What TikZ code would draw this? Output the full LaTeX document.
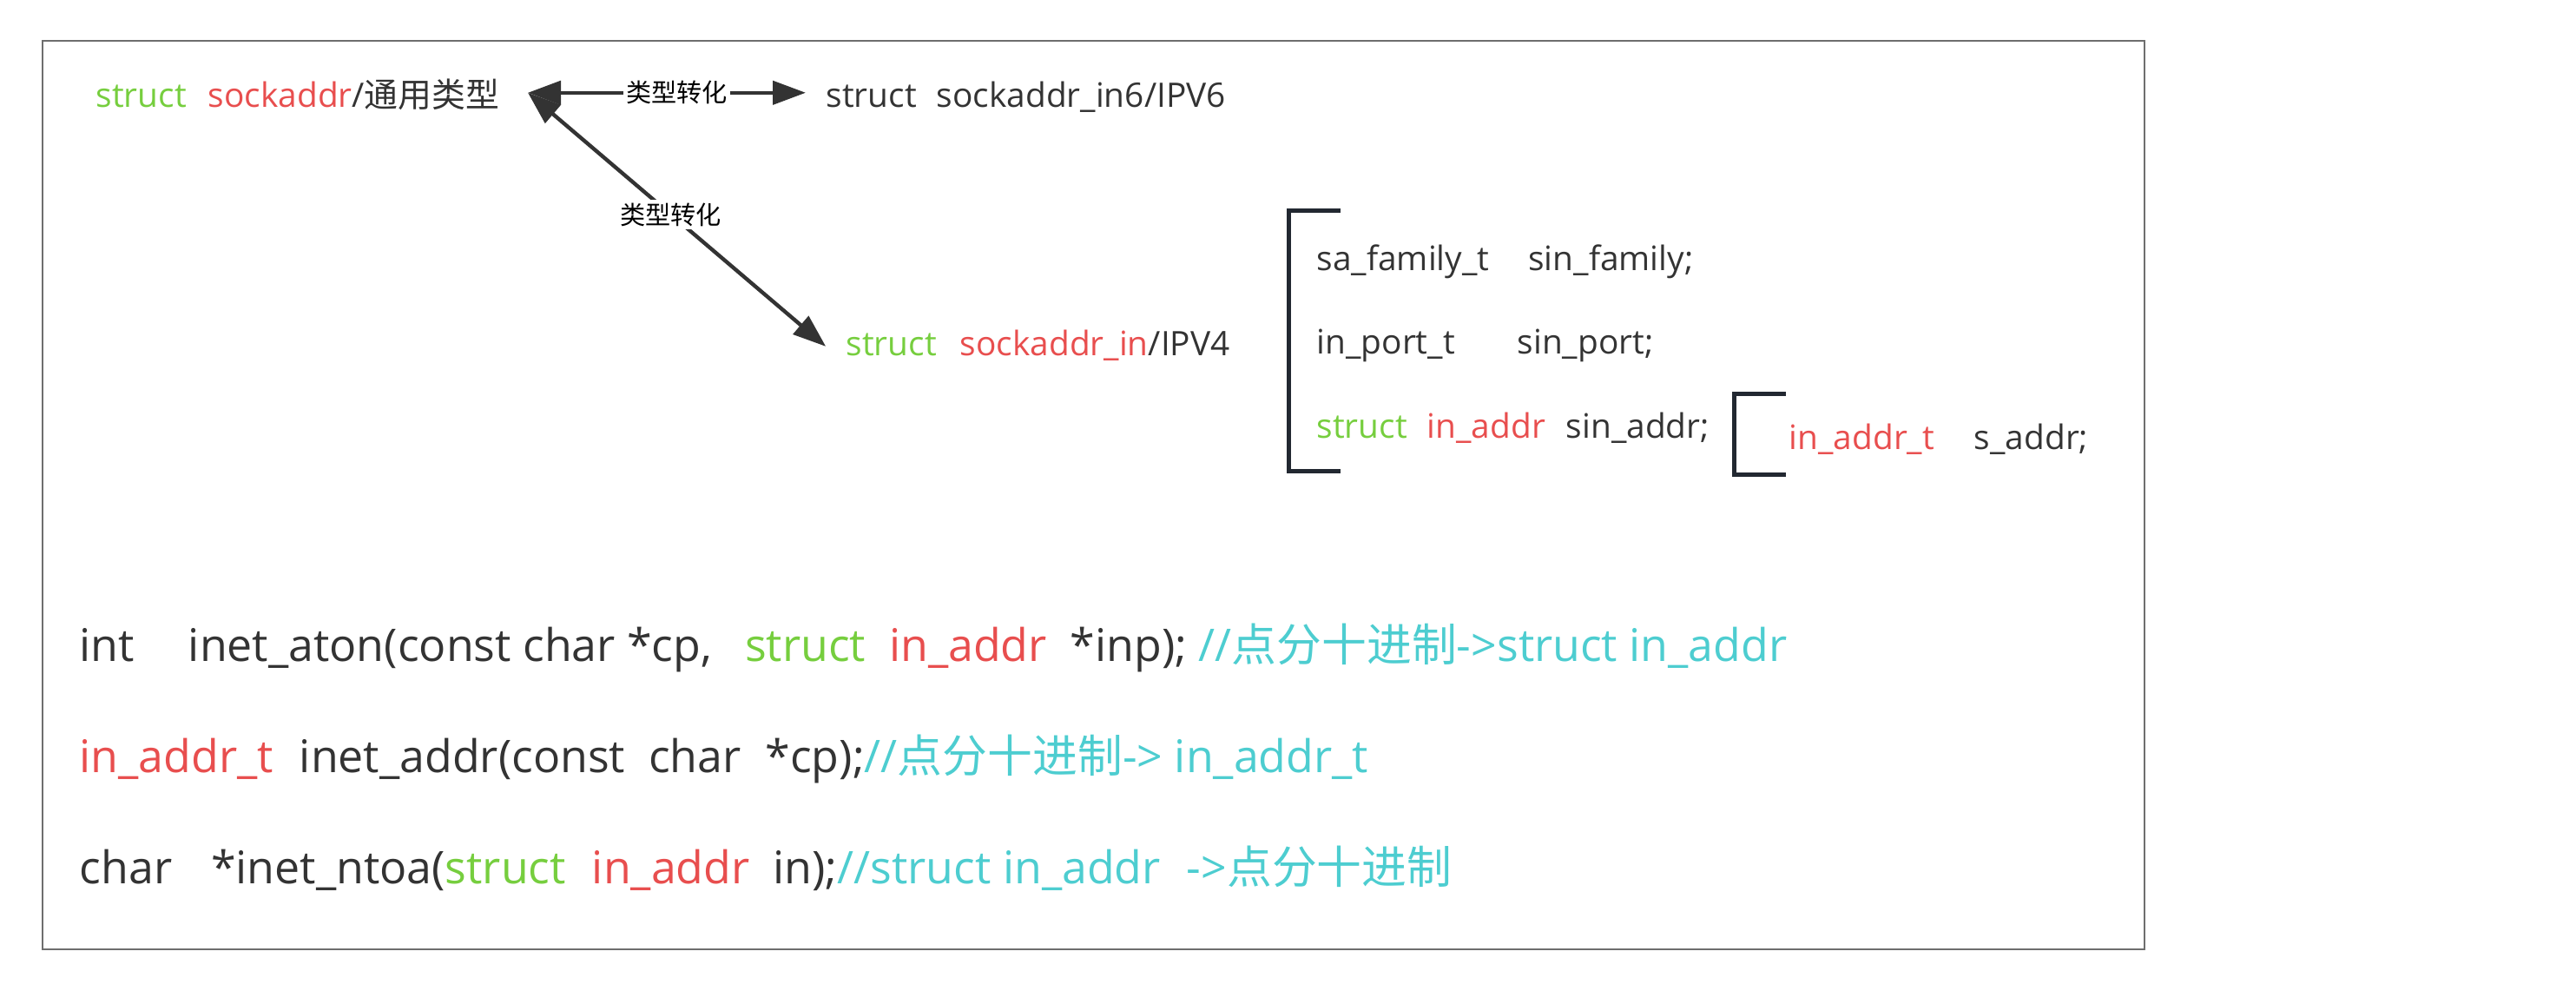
\documentclass[tikz,border=0pt]{standalone}
\usepackage{fontspec}
\setmainfont{Open Sans}
\newfontfamily\cjk{Noto Sans CJK SC}
\usetikzlibrary{arrows.meta}
\definecolor{cgreen}{RGB}{118,206,62}
\definecolor{cred}{RGB}{232,78,78}
\definecolor{ccyan}{RGB}{77,205,208}
\definecolor{ctext}{RGB}{51,51,51}
\definecolor{carrow}{RGB}{51,51,51}
\definecolor{cbrk}{RGB}{34,40,49}
\definecolor{cframe}{RGB}{110,110,110}
\newcommand{\gap}[1]{\hspace{#1cm}}

\begin{document}
\begin{tikzpicture}[
    txt/.style={anchor=base west, inner sep=0pt, text=ctext},
    small/.style={txt, text height=0.42cm, text depth=0.076cm, font=\fontsize{11.05}{13}\selectfont},
    big/.style={txt, font=\fontsize{14.75}{17}\selectfont},
    conv/.style={{Triangle[length=0.38cm,width=0.27cm]}-{Triangle[length=0.38cm,width=0.27cm]}, line width=1.25pt, draw=carrow},
    lbl/.style={fill=white, inner sep=1pt, text=black, font=\cjk\fontsize{8.3}{10}\selectfont},
    brk/.style={line width=0.05cm, draw=cbrk, line join=miter}
]
    \useasboundingbox (0,0) rectangle (29.67,-11.41);
    \draw[draw=cframe, line width=0.015cm] (0.49,-0.47) rectangle (24.70,-10.93);

    % struct types
    \node[small] (sockaddr) at (1.10,-1.24) {\textcolor{cgreen}{struct}\gap{0.25}\textcolor{cred}{sockaddr}/{\cjk 通用类型}};
    \node[small] (in6) at (9.51,-1.24) {struct\gap{0.23}sockaddr\_in6/IPV6};
    \node[small] (in4) at (9.74,-4.10) {\textcolor{cgreen}{struct}\gap{0.27}\textcolor{cred}{sockaddr\_in}/IPV4};

    \draw[conv, shorten >=0.23cm] ([xshift=0.32cm]sockaddr.east) -- node[lbl] {类型转化} (in6.west);
    \draw[conv, shorten >=0.30cm] ([xshift=0.32cm]sockaddr.east) -- node[lbl, pos=0.45] {类型转化} (in4.south west);

    % members of sockaddr_in
    \node[small] (family) at (15.16,-3.12) {sa\_family\_t\gap{0.45}sin\_family;};
    \node[small] (port) at (15.16,-4.08) {in\_port\_t\gap{0.72}sin\_port;};
    \node[small] (addr) at (15.16,-5.05) {\textcolor{cgreen}{struct}\gap{0.23}\textcolor{cred}{in\_addr}\gap{0.24}sin\_addr;};
    \node[small] (saddr) at (20.60,-5.18) {\textcolor{cred}{in\_addr\_t}\gap{0.46}s\_addr;};
    \draw[brk] (15.44,-2.43) -- (14.84,-2.43) -- (14.84,-5.43) -- (15.44,-5.43);
    \draw[brk] (20.57,-4.54) -- (19.97,-4.54) -- (19.97,-5.47) -- (20.57,-5.47);

    % conversion functions
    \node[big] (aton) at (0.91,-7.62) {int\gap{0.62}inet\_aton(const char *cp,\gap{0.38}\textcolor{cgreen}{struct}\gap{0.27}\textcolor{cred}{in\_addr}\gap{0.27}*inp); \textcolor{ccyan}{//{\cjk 点分十进制}->struct in\_addr}};
    \node[big] (inetaddr) at (0.91,-8.90) {\textcolor{cred}{in\_addr\_t}\gap{0.30}inet\_addr(const\gap{0.27}char\gap{0.28}*cp);\textcolor{ccyan}{//{\cjk 点分十进制}-> in\_addr\_t}};
    \node[big] (ntoa) at (0.91,-10.17) {char\gap{0.45}*inet\_ntoa(\textcolor{cgreen}{struct}\gap{0.30}\textcolor{cred}{in\_addr}\gap{0.27}in);\textcolor{ccyan}{//struct in\_addr\gap{0.30}->{\cjk 点分十进制}}};
\end{tikzpicture}
\end{document}
